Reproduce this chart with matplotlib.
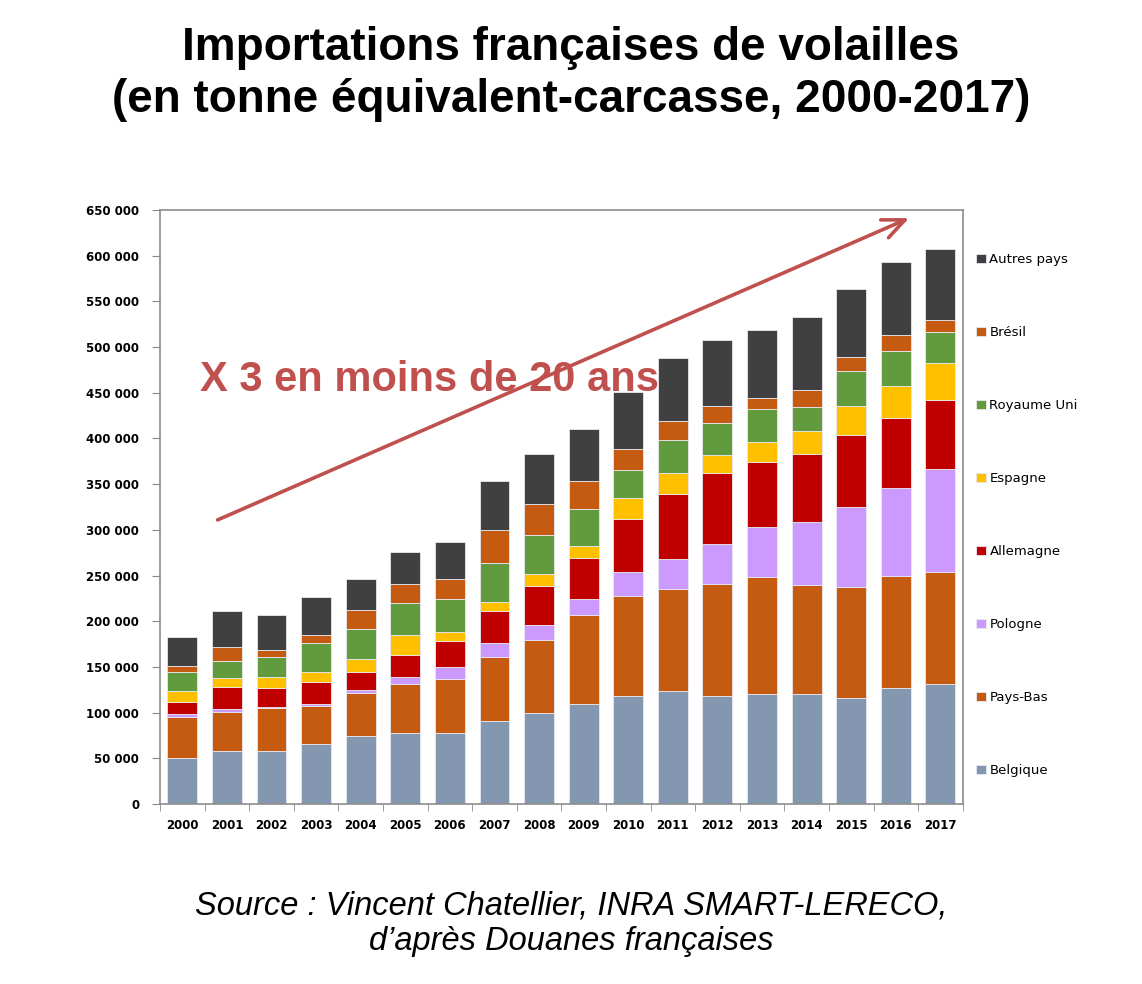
import numpy as np
import matplotlib
matplotlib.use("Agg")
import matplotlib.pyplot as plt

# données (tonnes équivalent-carcasse)
years = [str(y) for y in range(2000, 2018)]
belgique = [50000, 58000, 58000, 66000, 74000, 78000, 78000, 91000, 100000, 109000,
            118000, 124000, 118000, 120000, 120000, 116000, 127000, 131000]
pays_bas = [45000, 43000, 47000, 41000, 48000, 53000, 59000, 70000, 79000, 98000,
            110000, 111000, 123000, 128000, 120000, 121000, 122000, 123000]
pologne = [4000, 3000, 1000, 2000, 3000, 8000, 13000, 15000, 17000, 17000,
           26000, 33000, 44000, 55000, 69000, 88000, 97000, 113000]
allemagne = [13000, 24000, 21000, 24000, 19000, 24000, 28000, 35000, 43000, 45000,
             58000, 71000, 77000, 71000, 74000, 79000, 76000, 75000]
espagne = [12000, 10000, 12000, 12000, 15000, 22000, 10000, 10000, 13000, 13000,
           23000, 23000, 20000, 22000, 25000, 31000, 35000, 41000]
royaume_uni = [20000, 19000, 22000, 31000, 33000, 35000, 36000, 43000, 42000, 41000,
               30000, 36000, 35000, 36000, 26000, 39000, 39000, 33000]
bresil = [7000, 15000, 8000, 9000, 20000, 21000, 22000, 36000, 34000, 31000,
          23000, 21000, 18000, 12000, 19000, 15000, 17000, 14000]
autres = [32000, 39000, 38000, 42000, 34000, 35000, 41000, 53000, 55000, 56000,
          63000, 69000, 73000, 75000, 80000, 74000, 80000, 77000]

series = [
    ("Belgique", belgique, "#8497B0"),
    ("Pays-Bas", pays_bas, "#C55A11"),
    ("Pologne", pologne, "#CC99FF"),
    ("Allemagne", allemagne, "#C00000"),
    ("Espagne", espagne, "#FFC000"),
    ("Royaume Uni", royaume_uni, "#629B3E"),
    ("Brésil", bresil, "#C55A11"),
    ("Autres pays", autres, "#404040"),
]

fig = plt.figure(figsize=(11.42, 9.84), dpi=100)
ax = fig.add_axes([0.1401, 0.1829, 0.7029, 0.6037])

x = np.arange(len(years))
bottom = np.zeros(len(years))
for name, vals, col in series:
    ax.bar(x, vals, bottom=bottom, width=0.67, color=col, label=name,
           edgecolor="#e8e8f0", linewidth=0.6)
    bottom += np.array(vals)

ax.set_xlim(-0.5, len(years) - 0.5)
ax.set_ylim(0, 650000)
ax.set_yticks(np.arange(0, 650001, 50000))
ax.set_yticklabels([f"{v:,}".replace(",", " ") for v in range(0, 650001, 50000)],
                   fontsize=8.5, fontweight="bold")
ax.set_xticks(x)
ax.set_xticklabels(years, fontsize=8.5, fontweight="bold")
ax.set_xticks(np.arange(-0.5, len(years)), minor=True)
ax.tick_params(axis="x", which="major", length=0, pad=11)
ax.tick_params(axis="x", which="minor", length=5, color="#888888")
ax.tick_params(axis="y", length=6, color="#888888", pad=9)
for sp in ax.spines.values():
    sp.set_color("#8c8c8c")
    sp.set_linewidth(1.2)

# légende à droite, ordre inversé
h, l = ax.get_legend_handles_labels()
leg = fig.legend(h[::-1], l[::-1], loc="upper left",
                 bbox_to_anchor=(0.8445, 0.755), frameon=False,
                 fontsize=9.5, handlelength=0.7, handleheight=0.7,
                 handletextpad=0.3, labelspacing=4.55)

# flèche et annotation
ax.annotate("", xy=(0.7983, 0.7795), xycoords="figure fraction",
            xytext=(0.1883, 0.4705), textcoords="figure fraction",
            arrowprops=dict(arrowstyle="->,head_length=1.6,head_width=0.7",
                            color="#C0504D", lw=2.6))
fig.text(0.175, 0.614, "X 3 en moins de 20 ans", color="#C0504D",
         fontsize=30, fontweight="bold", family="Liberation Sans",
         va="center", ha="left", zorder=10)

fig.text(0.5, 0.925, "Importations françaises de volailles\n(en tonne équivalent-carcasse, 2000-2017)",
         ha="center", va="center", fontsize=33, fontweight="bold",
         family="Liberation Sans", linespacing=1.22)

fig.text(0.5, 0.061, "Source : Vincent Chatellier, INRA SMART-LERECO,\nd\u2019après Douanes françaises",
         ha="center", va="center", fontsize=23.5, style="italic",
         family="Liberation Sans", linespacing=1.2)

fig.savefig("out.png", dpi=100)
